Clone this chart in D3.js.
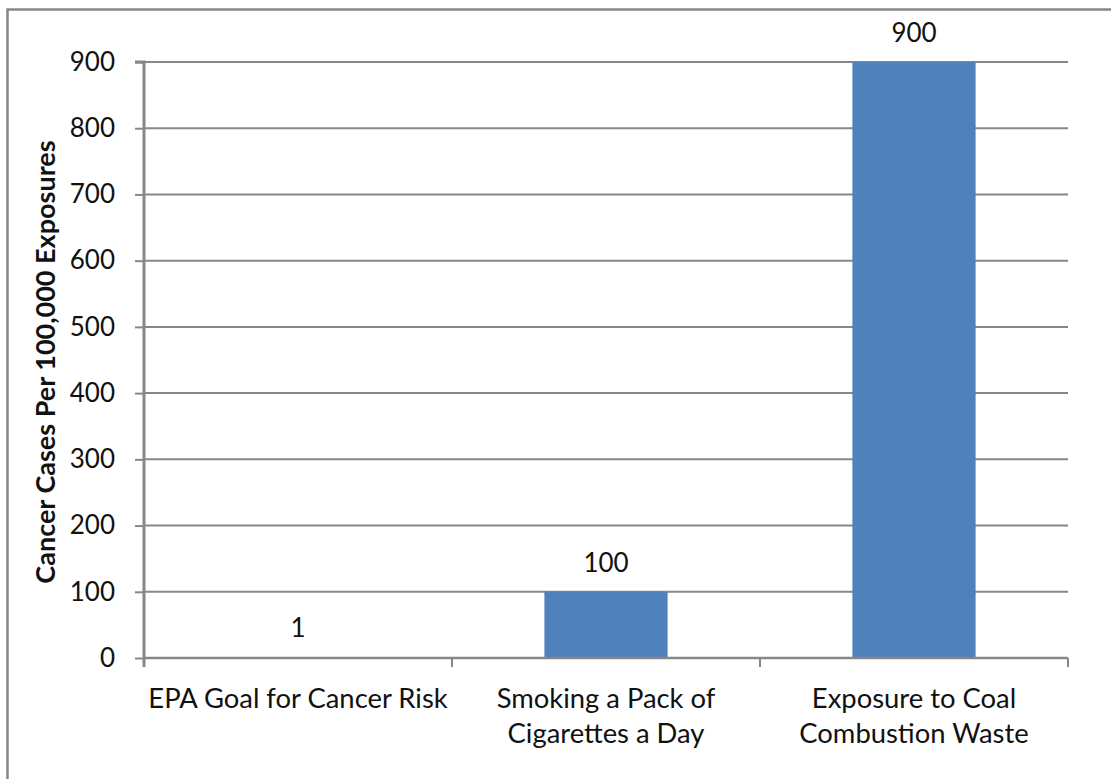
<!DOCTYPE html>
<html>
<head>
<meta charset="utf-8">
<script src="https://cdn.jsdelivr.net/npm/d3@7"></script>
<style>
  html, body { margin: 0; padding: 0; background: #fff; }
  svg { display: block; }
  text { font-family: Lato, "Open Sans", sans-serif; fill: #111; }
</style>
</head>
<body>
<svg id="chart" width="1111" height="779"></svg>
<script>
// Cancer cases per 100,000 exposures for three risk sources
const categories = [
  "EPA Goal for Cancer Risk",
  "Smoking a Pack of\nCigarettes a Day",
  "Exposure to Coal\nCombustion Waste"
];
const values = [1, 100, 900];
const yTicks = [0, 100, 200, 300, 400, 500, 600, 700, 800, 900];
const yTitle = "Cancer Cases Per 100,000 Exposures";

const W = 1111, H = 779;
const plot = { left: 144, right: 1068, top: 62, bottom: 658 };
const gray = "#878787";
const barColor = "#4F81BD";

const svg = d3.select("#chart");

// outer chart frame (runs off the right and bottom of the page)
svg.append("rect")
  .attr("x", 7.5).attr("y", 9.5)
  .attr("width", 1200).attr("height", 900)
  .attr("fill", "none").attr("stroke", gray).attr("stroke-width", 2.5);

const x = d3.scaleBand()
  .domain(categories)
  .range([plot.left, plot.right])
  .paddingInner(0.6)
  .paddingOuter(0.3);

const y = d3.scaleLinear()
  .domain([0, 900])
  .range([plot.bottom, plot.top]);

// horizontal gridlines
svg.append("g").selectAll("line")
  .data(yTicks.filter(d => d > 0))
  .join("line")
  .attr("x1", plot.left).attr("x2", plot.right)
  .attr("y1", d => y(d)).attr("y2", d => y(d))
  .attr("stroke", gray).attr("stroke-width", 2);

// bars
svg.append("g").selectAll("rect")
  .data(values)
  .join("rect")
  .attr("x", (d, i) => x(categories[i]))
  .attr("width", x.bandwidth())
  .attr("y", d => y(d))
  .attr("height", d => y(0) - y(d))
  .attr("fill", barColor);

// y axis
const yAxis = d3.axisLeft(y)
  .tickValues(yTicks)
  .tickSize(9)
  .tickPadding(20);
const gy = svg.append("g")
  .attr("transform", `translate(${plot.left},0)`)
  .call(yAxis);
gy.select(".domain").attr("stroke", gray).attr("stroke-width", 3)
  .attr("d", `M-9,${plot.top}H0V${plot.bottom + 9}`);
gy.selectAll(".tick line").attr("stroke", gray).attr("stroke-width", 2);
gy.selectAll(".tick text")
  .attr("font-size", 26)
  .attr("font-family", "Lato, sans-serif")
  .attr("fill", "#111");

// x axis with ticks between categories
const gx = svg.append("g")
  .attr("transform", `translate(0,${plot.bottom})`);
gx.append("line")
  .attr("x1", plot.left).attr("x2", plot.right)
  .attr("stroke", gray).attr("stroke-width", 2.5);
const boundaries = d3.range(categories.length + 1).map(i => plot.left + i * (plot.right - plot.left) / categories.length);
gx.selectAll("line.sep")
  .data(boundaries)
  .join("line")
  .attr("class", "sep")
  .attr("x1", d => d).attr("x2", d => d)
  .attr("y1", 0).attr("y2", 9)
  .attr("stroke", gray).attr("stroke-width", 2);

// category labels
const lab = svg.append("g").selectAll("text")
  .data(categories)
  .join("text")
  .attr("text-anchor", "middle")
  .attr("font-size", 27.4)
  .attr("transform", d => `translate(${x(d) + x.bandwidth() / 2},708)`);
lab.selectAll("tspan")
  .data(d => d.split("\n"))
  .join("tspan")
  .attr("x", 0)
  .attr("y", (d, i) => i * 35)
  .text(d => d);

// value labels
svg.append("g").selectAll("text")
  .data(values)
  .join("text")
  .attr("text-anchor", "middle")
  .attr("font-size", 26)
  .attr("x", (d, i) => x(categories[i]) + x.bandwidth() / 2)
  .attr("y", d => y(d) - 20)
  .text(d => d);

// y axis title
svg.append("text")
  .attr("transform", `translate(55,${(plot.top + plot.bottom) / 2 + 2}) rotate(-90)`)
  .attr("text-anchor", "middle")
  .attr("font-size", 27)
  .attr("font-weight", "bold")
  .text(yTitle);
</script>
</body>
</html>
